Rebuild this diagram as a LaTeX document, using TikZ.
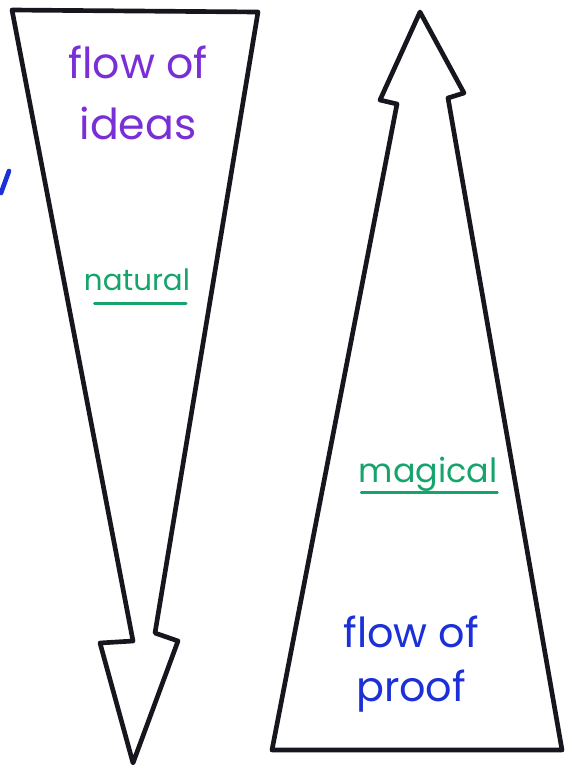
\documentclass[tikz,border=0pt]{standalone}
\usepackage{fontspec}
\setmainfont{Poppins}
\definecolor{ink}{HTML}{16161E}
\definecolor{violet}{HTML}{7A2FD6}
\definecolor{mint}{HTML}{16A46C}
\definecolor{pen}{HTML}{1B30D6}

\begin{document}
\begin{tikzpicture}[x=0.75pt,y=-0.75pt,
outline/.style={draw=ink,line width=3.5pt,line join=round,line cap=round},
hand/.style={font=\fontsize{32}{46}\selectfont,align=center,inner sep=0pt},
note/.style={font=\fontsize{22}{26}\selectfont,text=mint,inner sep=0pt,anchor=base},
uline/.style={draw=mint,line width=1.8pt,line cap=round}]
 \useasboundingbox (0,0) rectangle (576,765);
 % downward arrow
 \draw[outline] (12,10) -- (258,12) -- (155,633) -- (178,641) -- (133,763)
   -- (100,643) -- (133,641) -- cycle;
 % upward arrow
 \draw[outline] (272,750) -- (562,750) -- (448,98) -- (464,93) -- (420,12)
   -- (380,100) -- (397,104) -- cycle;
 % stray mark
 \draw[draw=pen,line width=3.5pt,line cap=round] (9,171) -- (1,193);
 \node[hand,text=violet] (ideas) at (138,93) {flow of\\ideas};
 \node[note] (natural) at (137,290) {natural};
 \draw[uline] ([xshift=8pt,yshift=-10pt]natural.base west) -- ([xshift=-3pt,yshift=-10pt]natural.base east);
 \node[note,font=\fontsize{25}{30}\selectfont] (magical) at (428,482) {magical};
 \draw[uline] ([xshift=2pt,yshift=-8pt]magical.base west) -- ([yshift=-8pt]magical.base east);
 \node[hand,text=pen,font=\fontsize{31}{40}\selectfont] (proof) at (411,664) {flow of\\proof};
\end{tikzpicture}
\end{document}
